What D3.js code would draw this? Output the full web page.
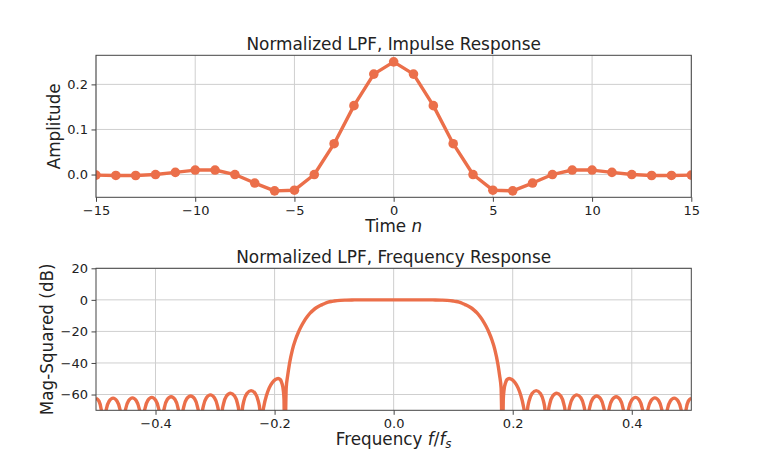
<!DOCTYPE html>
<html>
<head>
<meta charset="utf-8">
<title>Normalized LPF</title>
<script src="https://cdn.jsdelivr.net/npm/d3@7"></script>
<style>
  body { margin: 0; background: #fff; }
  svg text { font-family: 'DejaVu Sans', sans-serif; fill: #222; }
</style>
</head>
<body>
<script>
// Impulse response taps
var timeN = [-15, -14, -13, -12, -11, -10, -9, -8, -7, -6, -5, -4, -3, -2, -1, 0,
             1, 2, 3, 4, 5, 6, 7, 8, 9, 10, 11, 12, 13, 14, 15];
var amplitude = [-0.0012, -0.0020, -0.0021, 0, 0.0048, 0.0099, 0.0100, 0, -0.0189, -0.0362, -0.0347, 0, 0.0684, 0.1528, 0.2228, 0.25,
                 0.2228, 0.1528, 0.0684, 0, -0.0347, -0.0362, -0.0189, 0, 0.0100, 0.0099, 0.0048, 0, -0.0021, -0.0020, -0.0012];
var timeTicks = [-15, -10, -5, 0, 5, 10, 15];
var ampTicks = [0, 0.1, 0.2];

// Frequency response (dB) for f >= 0; the curve is symmetric about 0
var freqHalf = [0, 0.04, 0.06, 0.07, 0.08, 0.09, 0.10, 0.105, 0.11, 0.115, 0.12, 0.125, 0.13, 0.135, 0.14, 0.145, 0.15, 0.155, 0.16, 0.165, 0.17, 0.175, 0.178, 0.1805, 0.183,
  0.1842, 0.1855, 0.188, 0.1905, 0.194, 0.199, 0.204, 0.209, 0.2135, 0.2175, 0.2200, 0.222,
  0.2248, 0.2273, 0.2325, 0.2395, 0.2465, 0.2518, 0.2542, 0.257,
  0.2597, 0.2621, 0.2672, 0.274, 0.2808, 0.2859, 0.2883, 0.291,
  0.2937, 0.2960, 0.3011, 0.3078, 0.3145, 0.3195, 0.3218, 0.3245,
  0.3271, 0.3295, 0.3344, 0.341, 0.3476, 0.3526, 0.3549, 0.3575,
  0.3601, 0.3624, 0.3673, 0.3738, 0.3803, 0.3851, 0.3874, 0.390,
  0.3926, 0.3949, 0.3998, 0.4063, 0.4128, 0.4176, 0.4199, 0.4225,
  0.4251, 0.4274, 0.4323, 0.4388, 0.4453, 0.4501, 0.4524, 0.455,
  0.4576, 0.4599, 0.4648, 0.4713, 0.4778, 0.4826, 0.4849, 0.4875,
  0.4895, 0.4913, 0.495, 0.5];
var dbHalf = [0, 0, -0.02, -0.06, -0.15, -0.32, -0.75, -1.05, -1.5, -2.15, -3.0, -3.9, -5.0, -6.5, -8.3, -10.6, -13.3, -16.6, -20.5, -25.3, -31.5, -40.5, -48, -56, -100,
  -63, -57, -52.5, -50.5, -49.8, -50.6, -52.6, -55.8, -60.5, -66.5, -73, -100,
  -69.6, -64.4, -59.3, -57.5, -59.3, -64.4, -69.6, -100,
  -71.3, -66.1, -61.0, -59.2, -61.0, -66.1, -71.3, -100,
  -72.3, -67.1, -62.0, -60.2, -62.0, -67.1, -72.3, -100,
  -73.0, -67.8, -62.7, -60.9, -62.7, -67.8, -73.0, -100,
  -73.5, -68.3, -63.2, -61.4, -63.2, -68.3, -73.5, -100,
  -73.9, -68.7, -63.6, -61.8, -63.6, -68.7, -73.9, -100,
  -74.2, -69.0, -63.9, -62.1, -63.9, -69.0, -74.2, -100,
  -74.4, -69.2, -64.1, -62.3, -64.1, -69.2, -74.4, -100,
  -74.5, -69.3, -64.2, -62.4];
var freqTicks = [-0.4, -0.2, 0, 0.2, 0.4];
var dbTicks = [-60, -40, -20, 0, 20];

var width = 768,
    height = 461;
var lineColor = '#eb6f4a';
var left = 96, right = 691.3;

// mirror the half response onto negative frequencies
var response = [];
for (var i = freqHalf.length - 1; i > 0; i--) response.push([-freqHalf[i], dbHalf[i]]);
for (var j = 0; j < freqHalf.length; j++) response.push([freqHalf[j], dbHalf[j]]);

var svg = d3.select('body')
  .append('svg')
  .attr('width', width)
  .attr('height', height);

// draws frame, grid, ticks; returns the plot group
function makePanel(id, top, bottom, x, y, xTicks, yTicks, fx, fy) {
  var g = svg.append('g');

  svg.append('clipPath').attr('id', id)
    .append('rect')
    .attr('x', left).attr('y', top)
    .attr('width', right - left).attr('height', bottom - top);

  g.selectAll('.gx').data(xTicks).enter().append('line')
    .attr('x1', x).attr('x2', x)
    .attr('y1', top).attr('y2', bottom)
    .attr('stroke', '#cfcfcf').attr('stroke-width', 1);
  g.selectAll('.gy').data(yTicks).enter().append('line')
    .attr('x1', left).attr('x2', right)
    .attr('y1', y).attr('y2', y)
    .attr('stroke', '#cfcfcf').attr('stroke-width', 1);

  var ax = g.append('g')
    .attr('transform', 'translate(0,' + bottom + ')')
    .call(d3.axisBottom(x).tickValues(xTicks).tickFormat(fx).tickSize(4.5).tickPadding(3.5));
  var ay = g.append('g')
    .attr('transform', 'translate(' + left + ',0)')
    .call(d3.axisLeft(y).tickValues(yTicks).tickFormat(fy).tickSize(4.5).tickPadding(3.5));
  [ax, ay].forEach(function(a) {
    a.select('.domain').remove();
    a.selectAll('line').attr('stroke', '#444');
    a.selectAll('text')
      .attr('fill', '#222')
      .style('font-size', '13px')
      .style('font-family', "'DejaVu Sans', sans-serif");
  });

  var plot = g.append('g').attr('clip-path', 'url(#' + id + ')');

  g.append('rect')
    .attr('x', left).attr('y', top)
    .attr('width', right - left).attr('height', bottom - top)
    .attr('fill', 'none')
    .attr('stroke', '#444')
    .attr('stroke-width', 1);

  return plot;
}

// ---- top: impulse response ----
var top1 = 55.3, bottom1 = 197.3;
var x1 = d3.scaleLinear().domain([-15, 15]).range([left, right]);
var y1 = d3.scaleLinear().domain([-0.0505, 0.2645]).range([bottom1, top1]);

var p1 = makePanel('clip1', top1, bottom1, x1, y1, timeTicks, ampTicks, d3.format('d'), d3.format('.1f'));

p1.append('path')
  .datum(amplitude)
  .attr('fill', 'none')
  .attr('stroke', lineColor)
  .attr('stroke-width', 3.4)
  .attr('stroke-linejoin', 'round')
  .attr('d', d3.line().x(function(d, i) { return x1(timeN[i]); }).y(function(d) { return y1(d); }));

p1.selectAll('circle')
  .data(amplitude)
  .enter()
  .append('circle')
  .attr('cx', function(d, i) { return x1(timeN[i]); })
  .attr('cy', function(d) { return y1(d); })
  .attr('r', 4.8)
  .attr('fill', lineColor);

svg.append('text')
  .attr('x', (left + right) / 2).attr('y', 50)
  .attr('text-anchor', 'middle')
  .style('font-size', '16.9px')
  .text('Normalized LPF, Impulse Response');

var xl1 = svg.append('text')
  .attr('x', (left + right) / 2).attr('y', 232)
  .attr('text-anchor', 'middle')
  .style('font-size', '16.8px');
xl1.append('tspan').text('Time ');
xl1.append('tspan').style('font-style', 'italic').text('n');

svg.append('text')
  .attr('transform', 'translate(60,' + (top1 + bottom1) / 2 + ') rotate(-90)')
  .attr('text-anchor', 'middle')
  .style('font-size', '16.8px')
  .text('Amplitude');

// ---- bottom: frequency response ----
var top2 = 268.3, bottom2 = 410.3;
var x2 = d3.scaleLinear().domain([-0.5, 0.5]).range([left, right]);
var y2 = d3.scaleLinear().domain([-70, 20]).range([bottom2, top2]);

var p2 = makePanel('clip2', top2, bottom2, x2, y2, freqTicks, dbTicks, d3.format('.1f'), d3.format('d'));

p2.append('path')
  .datum(response)
  .attr('fill', 'none')
  .attr('stroke', lineColor)
  .attr('stroke-width', 3.4)
  .attr('stroke-linejoin', 'round')
  .attr('d', d3.line()
    .curve(d3.curveMonotoneX)
    .x(function(d) { return x2(d[0]); })
    .y(function(d) { return y2(d[1]); }));

svg.append('text')
  .attr('x', (left + right) / 2).attr('y', 263)
  .attr('text-anchor', 'middle')
  .style('font-size', '16.9px')
  .text('Normalized LPF, Frequency Response');

var xl2 = svg.append('text')
  .attr('x', (left + right) / 2).attr('y', 445)
  .attr('text-anchor', 'middle')
  .style('font-size', '16.8px');
xl2.append('tspan').text('Frequency ');
xl2.append('tspan').style('font-style', 'italic').text('f');
xl2.append('tspan').text('/');
xl2.append('tspan').style('font-style', 'italic').text('f');
xl2.append('tspan').style('font-style', 'italic').style('font-size', '11.8px').attr('dy', 3).text('s');

svg.append('text')
  .attr('transform', 'translate(53,' + (top2 + bottom2) / 2 + ') rotate(-90)')
  .attr('text-anchor', 'middle')
  .style('font-size', '16.8px')
  .text('Mag-Squared (dB)');
</script>
</body>
</html>
